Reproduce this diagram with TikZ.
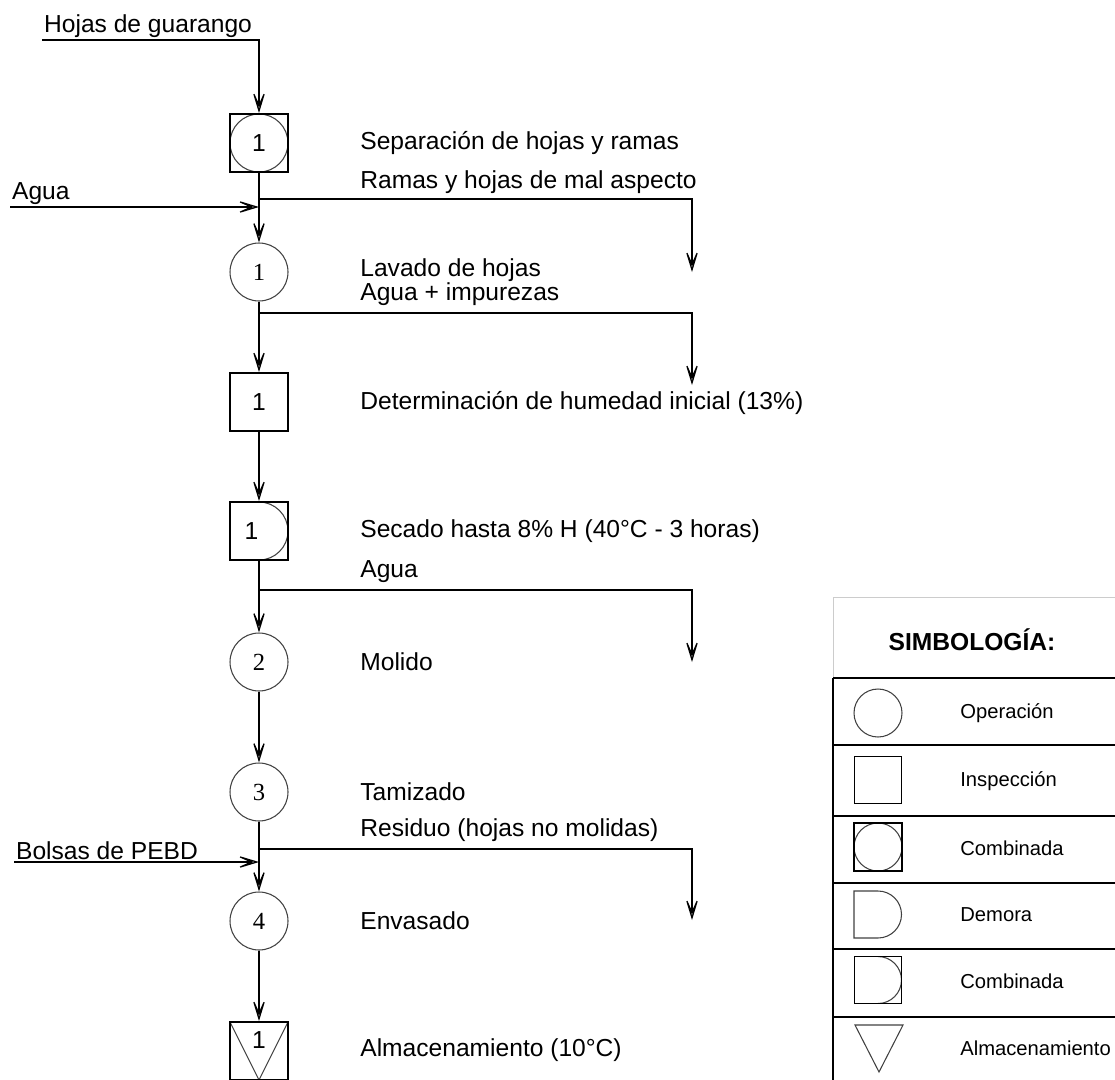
\documentclass[tikz,border=0pt]{standalone}
\usepackage{fontspec}
\setmainfont{Liberation Sans}
\newfontfamily\numfont{Liberation Serif}
\usetikzlibrary{arrows.meta}

\tikzset{
	sym/.style={draw=black!75,line width=0.6pt},
	flow/.style={line width=1pt,-{Stealth[open,length=0.56cm,width=0.34cm,inset=0.38cm,line width=0.7pt]}},
	opn/.style={circle,sym,minimum size=#1,inner sep=0pt,font=\numfont\fontsize{14}{16}\selectfont},
	opn/.default=1.16cm,
	insp/.style={draw,line width=1.1pt,minimum size=#1,inner sep=0pt,font=\fontsize{14}{16}\selectfont},
	insp/.default=1.16cm,
	comb/.style={insp=#1,path picture={\draw[sym] (path picture bounding box.center) circle ({#1/2});}},
	comb/.default=1.16cm,
	demc/.style={insp=#1,path picture={\draw[sym] (path picture bounding box.north) arc[start angle=90,end angle=-90,radius={#1/2}];}},
	demc/.default=1.16cm,
	almc/.style={insp=#1,path picture={\draw[sym] (path picture bounding box.north west) -- (path picture bounding box.south) -- (path picture bounding box.north east);}},
	almc/.default=1.16cm,
	txt/.style={anchor=west,inner sep=0pt,font=\fontsize{14}{16}\selectfont},
	inp/.style={anchor=south west,inner sep=1pt,font=\fontsize{14}{16}\selectfont},
	lgd/.style={anchor=west,inner sep=0pt,font=\fontsize{11.5}{13}\selectfont},
}

\begin{document}
\begin{tikzpicture}[x=0.02cm,y=-0.02cm]
	\path[use as bounding box] (0,0) rectangle (1115,1079);
	\clip (0,0) rectangle (1115,1079);

	% proceso
	\node[comb] (s1) at (259,143) {1};
	\node[opn] (o1) at (259,272) {1};
	\node[insp] (i1) at (259,402) {1};
	\node[demc] (d1) at (259,531) {\hspace*{-0.3cm}1};
	\node[opn] (o2) at (259,662) {2};
	\node[opn] (o3) at (259,792) {3};
	\node[opn] (o4) at (259,921) {4};
	\node[almc,label={[yshift=0.22cm,font=\fontsize{14}{16}\selectfont]center:1}] (a1) at (259,1051) {};

	\foreach \p/\q in {s1/o1,o1/i1,i1/d1,d1/o2,o2/o3,o3/o4,o4/a1}{
		\draw[flow] (\p) -- (\q);
	}

	% entradas
	\node[inp] (hg) at (42,40) {Hojas de guarango};
	\node[inp] (ag) at (10,207) {Agua};
	\node[inp] (bp) at (14,862) {Bolsas de PEBD};
	\coordinate (j1) at (259,207);
	\coordinate (j2) at (259,862);
	\draw[flow] (hg.south west) -| (s1);
	\draw[flow] (ag.south west) -- (j1);
	\draw[flow] (bp.south west) -- (j2);

	% salidas
	\foreach \y/\e [count=\i] in {199/272,313/385,590/662,849/920}{
		\coordinate (b\i) at (259,\y);
		\coordinate (e\i) at (692,\e);
		\draw[flow] (b\i) -| (e\i);
	}

	\foreach \y/\t [count=\i] in {143/Separación de hojas y ramas,182/Ramas y hojas de mal aspecto,
		270/Lavado de hojas,294/Agua + impurezas,403/Determinación de humedad inicial (13\%),
		531/Secado hasta 8\% H (40°C - 3 horas),572/Agua,662/Molido,792/Tamizado,
		830/Residuo (hojas no molidas),921/Envasado,1050/Almacenamiento (10°C)}{
		\node[txt] (t\i) at (360,\y) {\t};
	}

	% simbologia
	\draw[gray!40] (833,678) |- (1120,597);
	\foreach \y in {678,745,816,883,949}{
		\draw[line width=0.8pt] (833,\y) -- (1120,\y);
	}
	\draw[line width=0.8pt] (833,678) -- (833,1017);
	\draw[line width=1.4pt] (833,1085) |- (1120,1017);
	\node[font=\bfseries\fontsize{14}{16}\selectfont] (sim) at (972,640) {SIMBOLOGÍA:};
	\node[opn=0.96cm] (l1) at (878,713) {};
	\node[insp=0.94cm,line width=0.7pt] (l2) at (878,780) {};
	\node[comb=0.96cm,line width=0.7pt] (l3) at (878,847) {};
	\draw[sym] (854,891) -- (878,891) arc[start angle=90,end angle=-90,radius=0.47cm] -- (854,938) -- cycle;
	\node[demc=0.94cm,line width=0.7pt] (l5) at (878,980) {};
	\draw[sym] (855,1025) -- (903,1025) -- (879,1072) -- cycle;
	\foreach \y/\t [count=\i] in {713/Operación,781/Inspección,848/Combinada,915/Demora,981/Combinada,1048/Almacenamiento}{
		\node[lgd] (n\i) at (960,\y) {\t};
	}
\end{tikzpicture}
\end{document}
